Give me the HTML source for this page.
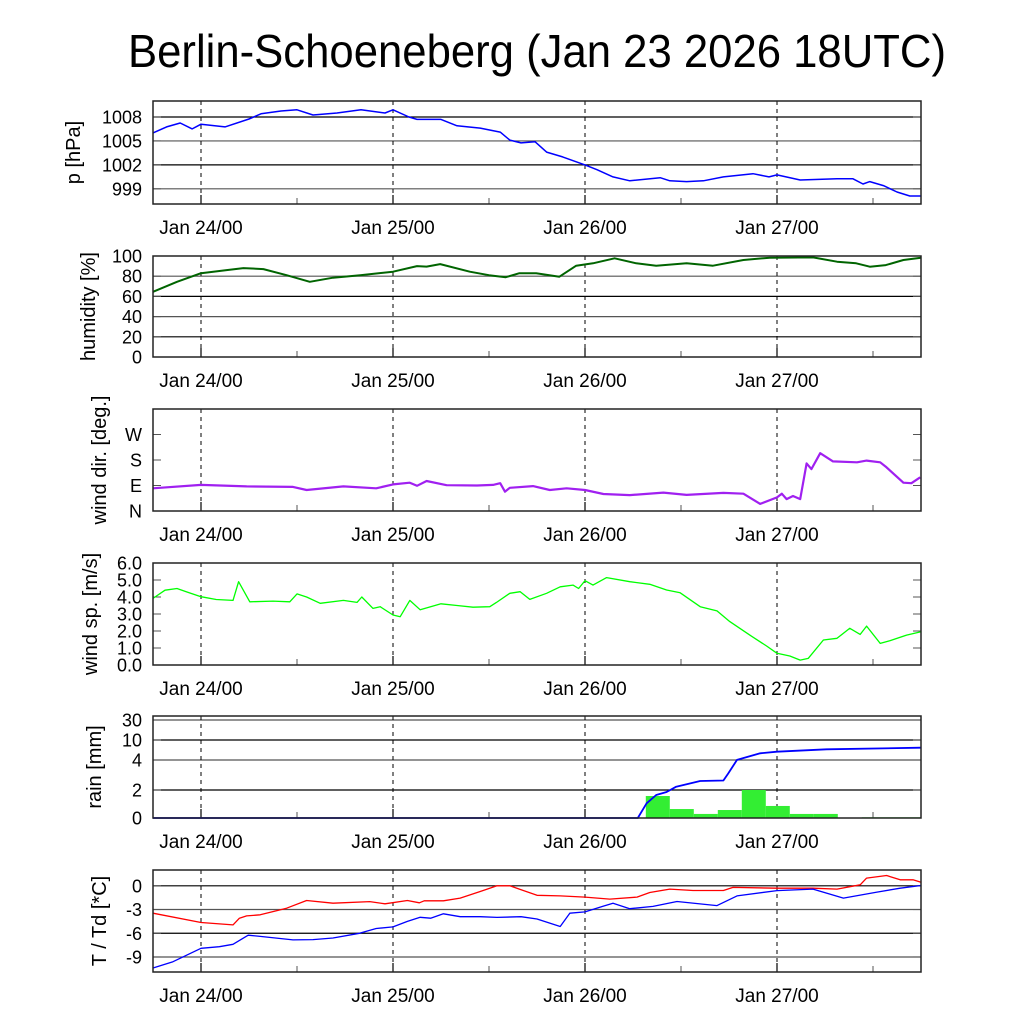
<!DOCTYPE html>
<html><head><meta charset="utf-8"><style>
html,body{margin:0;padding:0;background:#fff;}
svg{display:block;font-family:"Liberation Sans",sans-serif;}
</style></head><body>
<svg id="chart" width="1024" height="1024" viewBox="0 0 1024 1024" xmlns="http://www.w3.org/2000/svg">
<rect x="0" y="0" width="1024" height="1024" fill="#fff"/>
<text x="128" y="67" font-size="46" textLength="818" lengthAdjust="spacingAndGlyphs" fill="#000">Berlin-Schoeneberg (Jan 23 2026 18UTC)</text>
</svg>
<script>
// ---- data (hours since Jan 23 18UTC) ----
const dayLabels = ["Jan 24/00","Jan 25/00","Jan 26/00","Jan 27/00"];
const dayHours = [6,30,54,78];
const presT = [0,1.7,3.4,4.9,6,9,12,13.5,16,18,20,23,26,29,30,32,33,36,38,40.9,43.4,44.6,46,47.75,49.2,51.2,54,55.5,57.5,59.6,63.4,64.6,66.7,68.8,71.3,75,77,78,80.9,85.5,87.5,88.75,89.6,91.3,93,94.6,96];
const presV = [1006.0,1006.75,1007.25,1006.5,1007.1,1006.75,1007.75,1008.4,1008.75,1008.9,1008.25,1008.5,1008.9,1008.5,1008.9,1008.0,1007.7,1007.7,1006.9,1006.6,1006.1,1005.1,1004.75,1004.9,1003.6,1003.0,1002.0,1001.4,1000.5,1000.0,1000.4,1000.0,999.9,1000.0,1000.5,1000.9,1000.5,1000.75,1000.1,1000.25,1000.25,999.6,999.9,999.4,998.6,998.1,998.1];
const humT = [0,3,6,9.2,11.3,13.8,16.7,19.6,22.5,25.9,30,33,34.2,35.9,39.6,42,44.1,45.8,47.9,50.8,52.9,55,57.7,60.4,62.9,66.7,70,73.8,77.1,82.5,85.5,87.9,89.6,91.6,93.8,96];
const humV = [64.6,74.5,83,86,88,87,81,74.5,78.5,81,84.5,90,89.5,92,84.5,81,79,83,83,79.5,90.4,92.8,97.7,92.8,90.4,92.8,90.4,96,98.3,98.6,94.4,92.8,89.4,91,96,98.3];
const wdT = [0,6,11.7,17.5,19.2,23.8,27.9,30,32.1,33,34.2,36.7,40.5,42.5,43.4,44,44.6,47.5,49.6,51.7,54,56.3,59.6,63.8,66.7,71.3,73.8,75.9,78,78.6,79.2,80,80.9,81.7,82.3,83.4,85,88,89.2,90.9,91.7,93.8,94.8,95.9];
const wdV = [80,92,87,85,74,87,80,94,100,89,106,91,90,92,98,68,82,88,74,80,74,60,56,65,57,64,61,25,48,61,42,53,42,168,148,204,175,172,178,172,154,100,98,119];
const wsT = [0,1.5,3,4.2,6,7.9,10,10.7,12.1,15,17.1,18,19.2,20.9,23.8,25.5,26.1,27.5,28.4,30,30.9,32.1,33.4,36,38,40,42.1,42.9,44.6,45.9,47.1,49.2,50.9,52.5,53.2,54,55,56.7,59.6,62.1,64.2,65.9,68.4,70.5,72.1,74.6,76.7,78,79.6,80.9,81.9,83.8,85.5,87.1,88.4,89.2,90.9,92.1,94.2,96];
const wsV = [3.92,4.4,4.5,4.3,4.02,3.85,3.8,4.9,3.72,3.76,3.72,4.18,4.0,3.63,3.8,3.68,4.0,3.33,3.43,2.94,2.84,3.8,3.25,3.6,3.5,3.4,3.43,3.67,4.22,4.31,3.86,4.22,4.6,4.7,4.5,4.96,4.7,5.14,4.9,4.75,4.41,4.25,3.43,3.18,2.55,1.76,1.12,0.69,0.53,0.29,0.39,1.47,1.57,2.16,1.8,2.29,1.27,1.43,1.76,1.96];
const rainBinStart = [61.6,64.6,67.6,70.6,73.6,76.6,79.6,82.6,85.6,88.6,91.6,94.6];
const rainBinV = [1.57,0.64,0.29,0.57,2.0,0.86,0.29,0.29,0.02,0.05,0.05,0.05];
const rainSumT = [0,60.6,61.7,62.9,64.2,65.4,68.4,71.3,71.9,73,75.9,78,84.2,96];
const rainSumV = [0,0,1.05,1.64,1.86,2.22,2.6,2.63,3.1,4.03,6.0,6.5,7.2,7.7];
const tempT = [0,6,10,10.8,11.7,13.4,16.7,19.2,22.5,27.1,29,31.8,33.3,33.9,36.3,38.4,40.9,43,44.6,48,50.9,54,57.1,60.5,62.1,64.6,67.5,71.3,72.5,78,82.5,85.5,88.4,89.2,91.7,93.4,95,96];
const tempV = [-3.46,-4.64,-4.94,-4.1,-3.8,-3.67,-2.83,-1.86,-2.2,-2.0,-2.28,-1.86,-2.15,-1.9,-1.9,-1.56,-0.72,0,0,-1.2,-1.27,-1.43,-1.68,-1.43,-0.84,-0.42,-0.59,-0.59,-0.2,-0.3,-0.3,-0.42,0.13,0.97,1.3,0.76,0.76,0.46];
const dewT = [0,2.5,6,8.3,10,11.9,13.4,17.5,20,22.5,25.8,27.9,30,31.8,33.4,34.7,36.3,38.4,40.9,43,46,48,50.9,52.1,54,56.2,57.5,59.6,62.5,65.5,70.5,73,78,82.5,86.3,90.5,93.4,96];
const dewV = [-10.4,-9.6,-7.9,-7.7,-7.4,-6.24,-6.4,-6.84,-6.8,-6.6,-6.0,-5.4,-5.2,-4.5,-3.98,-4.1,-3.54,-3.9,-3.9,-4.0,-3.9,-4.2,-5.15,-3.46,-3.3,-2.6,-2.2,-2.9,-2.6,-1.98,-2.5,-1.27,-0.6,-0.42,-1.56,-0.8,-0.3,0.04];
const presTicks = [999,1002,1005,1008];
const humTicks = [0,20,40,60,80,100];
const wdTicks = [0,90,180,270];
const wdTickLabels = ["N","E","S","W"];
const wsTicks = [0,1,2,3,4,5,6];
const wsTickLabels = ["0.0","1.0","2.0","3.0","4.0","5.0","6.0"];
const rainTicks = [0,2,4,10,30];
const tempTicks = [-9,-6,-3,0];

// ---- axes ----
const X0=153, X1=921, H0=0, H1=96;
function xs(h){return X0+(h-H0)*(X1-X0)/(H1-H0);}
function linY(p){return v=>p.bottom-(v-p.min)*(p.bottom-p.top)/(p.max-p.min);}
// rain axis: piecewise by pixel anchors
const rainAnchorV=[0,2,4,10,30,40], rainAnchorY=[818,790,760,740,720,716];
function rainY(v){
  for(let i=0;i<rainAnchorV.length-1;i++){
    if(v<=rainAnchorV[i+1]){const f=(v-rainAnchorV[i])/(rainAnchorV[i+1]-rainAnchorV[i]);return rainAnchorY[i]+f*(rainAnchorY[i+1]-rainAnchorY[i]);}
  }
  return 716;
}
const svg=document.getElementById('chart');
const NS="http://www.w3.org/2000/svg";
function mk(tag,attrs,parent){const e=document.createElementNS(NS,tag);for(const k in attrs)e.setAttribute(k,attrs[k]);(parent||svg).appendChild(e);return e;}

const panels=[
 {name:'pressure',top:101,bottom:204,min:997.1,max:1010,title:'p [hPa]',tx:73,ticks:presTicks,labels:presTicks.map(String),grid:true},
 {name:'humidity',top:256,bottom:357,min:0,max:100,title:'humidity [%]',tx:88,ticks:humTicks,labels:humTicks.map(String),grid:true},
 {name:'wind-direction',top:409,bottom:511,min:0,max:360,title:'wind dir. [deg.]',tx:99,ticks:wdTicks,labels:wdTickLabels,grid:false},
 {name:'wind-speed',top:563,bottom:665,min:0,max:6,title:'wind sp. [m/s]',tx:90,ticks:wsTicks,labels:wsTickLabels,grid:false},
 {name:'rain',top:716,bottom:818,title:'rain [mm]',tx:94,ticks:rainTicks,labels:rainTicks.map(String),grid:true,ymap:rainY},
 {name:'temperature',top:870,bottom:972,min:-10.9,max:2.0,title:'T / Td [*C]',tx:99,ticks:tempTicks,labels:tempTicks.map(String),grid:true}
];
panels.forEach(p=>{ if(!p.ymap) p.ymap=linY(p); });

function drawPanel(p){
  const g=mk('g',{});
  
  
  // gridlines
  p.ticks.forEach((t,i)=>{
    const y=p.ymap(t);
    if(p.grid && y>p.top+1 && y<p.bottom-1){
      const l=mk('line',{x1:X0,x2:X1,y1:y,y2:y,stroke:(i%2?'#000':'#555'),'stroke-width':1.2},g);
      
      
    }
    mk('line',{x1:X0,x2:X0+8,y1:y,y2:y,stroke:'#555','stroke-width':1},g);
    mk('line',{x1:X1-8,x2:X1,y1:y,y2:y,stroke:'#555','stroke-width':1},g);
    const tl=mk('text',{x:142,y:y+6.5,'font-size':18,'text-anchor':'end',fill:'#000'},g);
    tl.textContent=p.labels[i];
    
    
  });
  // day lines
  dayHours.forEach((h,i)=>{
    const x=xs(h);
    const dl=mk('line',{x1:x,x2:x,y1:p.top,y2:p.bottom,stroke:'#000','stroke-width':1,'stroke-dasharray':'4,4'},g);
    
    
    mk('line',{x1:x,x2:x,y1:p.bottom-9,y2:p.bottom,stroke:'#000','stroke-width':1.2},g);
    const xm=xs(h+12);
    if(xm<X1) mk('line',{x1:xm,x2:xm,y1:p.bottom-6,y2:p.bottom,stroke:'#555','stroke-width':1},g);
    const lb=mk('text',{x:x,y:p.bottom+30,'font-size':19,'text-anchor':'middle',fill:'#000'},g);
    lb.textContent=dayLabels[i];
    
    
  });
  const yt=mk('text',{x:0,y:0,'font-size':20,'text-anchor':'middle',fill:'#000',transform:`translate(${p.tx+7},${(p.top+p.bottom)/2}) rotate(-90)`},g);
  yt.textContent=p.title;
  
  
  return g;
}
function frame(p,g){
  const r=mk('rect',{x:X0,y:p.top,width:X1-X0,height:p.bottom-p.top,fill:'none',stroke:'#222','stroke-width':1.5},g);
  
  
}
function line(p,g,T,V,color,w,name){
  const d=T.map((t,i)=>(i?'L':'M')+xs(t).toFixed(1)+','+p.ymap(V[i]).toFixed(1)).join('');
  const pa=mk('path',{d:d,fill:'none',stroke:color,'stroke-width':w,'stroke-linejoin':'round'},g);
  
  
}
const G=panels.map(drawPanel);
line(panels[0],G[0],presT,presV,'#0000ff',1.5,'pressure-line');
line(panels[1],G[1],humT,humV,'#006400',2,'humidity-line');
line(panels[2],G[2],wdT,wdV,'#a020f0',2.2,'wind-direction-line');
line(panels[3],G[3],wsT,wsV,'#00ff00',1.3,'wind-speed-line');
rainBinStart.forEach((s,i)=>{
  const p=panels[4];
  const xa=xs(s), xb=Math.min(xs(s+3),X1);
  const y=p.ymap(rainBinV[i]);
  const b=mk('rect',{x:xa,y:y,width:xb-xa,height:p.bottom-y,fill:'#33ee33'},G[4]);
  
  
});
line(panels[4],G[4],rainSumT,rainSumV,'#0000ff',1.8,'cumulative-rain-line');
line(panels[5],G[5],tempT,tempV,'#ff0000',1.3,'temperature-line');
line(panels[5],G[5],dewT,dewV,'#0000ff',1.3,'dewpoint-line');
panels.forEach((p,i)=>frame(p,G[i]));
</script>
</body></html>
